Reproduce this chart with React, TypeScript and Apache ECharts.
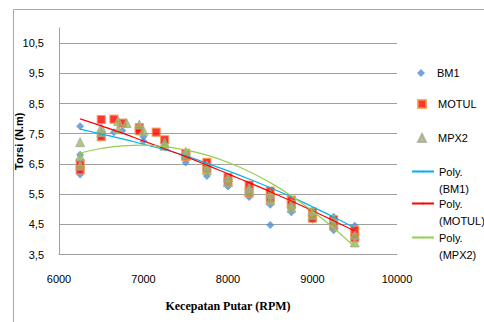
import React, { useEffect, useRef } from "react";
import * as echarts from "echarts";

// ---- data ----
const xTicks = [6000, 7000, 8000, 9000, 10000];
const yTicks = [3.5, 4.5, 5.5, 6.5, 7.5, 8.5, 9.5, 10.5];

const bm1Rpm = [6250, 6250, 6250, 6500, 6500, 6650, 6750, 7000, 7000, 7250, 7250, 7500, 7500, 7750, 7750, 8000, 8000, 8250, 8250, 8500, 8500, 8500, 8750, 8750, 9000, 9000, 9250, 9250, 9500, 9500];
const bm1Torque = [7.75, 6.8, 6.15, 7.55, 7.45, 7.55, 7.6, 7.25, 7.4, 7.1, 7.2, 6.55, 6.7, 6.1, 6.25, 5.75, 5.9, 5.4, 5.55, 5.15, 4.48, 5.3, 4.9, 5.0, 4.65, 4.8, 4.75, 4.3, 4.45, 4.15];

const motulRpm = [6250, 6250, 6500, 6500, 6650, 6750, 6950, 6950, 7150, 7250, 7500, 7500, 7750, 7750, 8000, 8000, 8250, 8250, 8500, 8500, 8750, 8750, 9000, 9000, 9250, 9250, 9500, 9500];
const motulTorque = [6.5, 6.3, 7.97, 7.4, 7.98, 7.85, 7.7, 7.6, 7.55, 7.3, 6.85, 6.75, 6.55, 6.35, 6.05, 5.9, 5.8, 5.55, 5.6, 5.35, 5.3, 5.15, 4.9, 4.7, 4.65, 4.45, 4.3, 4.05];

const mpx2Rpm = [6250, 6250, 6250, 6500, 6500, 6700, 6700, 6800, 6950, 7000, 7250, 7250, 7500, 7500, 7750, 7750, 8000, 8000, 8250, 8250, 8500, 8500, 8750, 8750, 9000, 9000, 9250, 9250, 9500, 9500];
const mpx2Torque = [7.22, 6.75, 6.45, 7.7, 7.55, 7.92, 7.65, 7.85, 7.8, 7.6, 7.2, 7.1, 6.9, 6.8, 6.45, 6.3, 6.05, 5.9, 5.7, 5.6, 5.5, 5.3, 5.2, 5.05, 4.95, 4.8, 4.7, 4.5, 4.15, 3.9];

const trendRpm = [6250, 6500, 6750, 7000, 7250, 7500, 7750, 8000, 8250, 8500, 8750, 9000, 9250, 9500];
const bm1Trend = [7.65, 7.49, 7.33, 7.15, 6.97, 6.77, 6.52, 6.27, 6.0, 5.71, 5.41, 5.08, 4.74, 4.38];
const motulTrend = [7.99, 7.76, 7.52, 7.26, 7.0, 6.74, 6.46, 6.17, 5.88, 5.58, 5.27, 4.95, 4.62, 4.28];
const mpx2Trend = [6.86, 7.01, 7.1, 7.12, 7.07, 6.96, 6.79, 6.55, 6.25, 5.88, 5.44, 4.94, 4.38, 3.75];

const scatterNames = ["BM1", "MOTUL", "MPX2"];
const trendNames = ["Poly. (BM1)", "Poly. (MOTUL)", "Poly. (MPX2)"];

const pairs = (xs: number[], ys: number[]) => xs.map((x, i) => [x, ys[i]]);

export default function App() {
  const ref = useRef<HTMLDivElement>(null);
  useEffect(() => {
    if (!ref.current) return;
    const chart = echarts.init(ref.current, null, { renderer: "svg" });
    const font = "Liberation Sans";
    const scatterIcons = ["diamond", "rect", "triangle"];
    const scatterTops = [66, 97, 131];
    const trendTops = [146, 178, 212];
    const legends: any[] = [];
    scatterNames.forEach((n, i) => {
      legends.push({
        data: [{ name: n, icon: scatterIcons[i] }],
        left: 417,
        top: scatterTops[i],
        padding: 0,
        itemWidth: 8,
        itemHeight: 8,
        textStyle: { fontFamily: font, fontSize: 11, color: "#000", lineHeight: 14, padding: [0, 0, 0, 7] },
      });
    });
    trendNames.forEach((n, i) => {
      legends.push({
        data: [n],
        left: 411,
        top: trendTops[i],
        padding: 0,
        itemWidth: 22,
        itemHeight: 2,
        formatter: (name: string) => " \n" + name.replace(" ", "\n"),
        textStyle: { fontFamily: font, fontSize: 11, color: "#000", lineHeight: 17 },
      });
    });

    chart.setOption({
      animation: false,
      grid: { left: 59, right: 87, top: 28, bottom: 67.5, outerBoundsMode: "none" },
      graphic: [
        {
          type: "rect",
          shape: { x: 13.5, y: 9.5, width: 600, height: 400 },
          style: { fill: "none", stroke: "#A6A6A6", lineWidth: 1 },
          silent: true,
        },
      ],
      legend: legends,
      xAxis: {
        type: "value",
        min: xTicks[0],
        max: xTicks[xTicks.length - 1],
        interval: 1000,
        axisLine: { show: true, lineStyle: { color: "#A0A0A0" } },
        axisTick: { show: false },
        splitLine: { show: false },
        axisLabel: {
          fontFamily: font,
          fontSize: 11,
          color: "#000",
          margin: 19,
          formatter: (v: number) => String(v),
        },
        name: "Kecepatan Putar (RPM)",
        nameLocation: "middle",
        nameGap: 45,
        nameMoveOverlap: false,
        nameTextStyle: { fontFamily: "Liberation Serif", fontWeight: "bold", fontSize: 12, color: "#000" },
      },
      yAxis: {
        type: "value",
        min: 3.5,
        max: 11,
        axisLine: { show: true, lineStyle: { color: "#A0A0A0" } },
        axisTick: { show: false, customValues: yTicks },
        splitLine: { show: true, lineStyle: { color: "#A0A0A0" } },
        axisLabel: {
          customValues: yTicks,
          fontFamily: font,
          fontSize: 11,
          color: "#000",
          margin: 15,
          formatter: (v: number) => v.toFixed(1).replace(".", ","),
        },
        name: "Torsi (N.m)",
        nameLocation: "middle",
        nameGap: 35,
        nameMoveOverlap: false,
        nameTextStyle: { fontFamily: font, fontWeight: "bold", fontSize: 11, color: "#000" },
      },
      series: [
        {
          name: "BM1",
          type: "scatter",
          symbol: "diamond",
          symbolSize: 8,
          itemStyle: { color: "#4F8FD6" },
          data: pairs(bm1Rpm, bm1Torque),
        },
        {
          name: "MOTUL",
          type: "scatter",
          symbol: "rect",
          symbolSize: 8,
          itemStyle: { color: "#FF0000", borderColor: "#F79646", borderWidth: 1.2 },
          data: pairs(motulRpm, motulTorque),
        },
        {
          name: "MPX2",
          type: "scatter",
          symbol: "triangle",
          symbolSize: 9,
          itemStyle: { color: "#9BBB59", borderColor: "#A6A6A6", borderWidth: 1 },
          data: pairs(mpx2Rpm, mpx2Torque),
        },
        {
          name: trendNames[0],
          type: "line",
          smooth: true,
          symbol: "none",
          z: 5,
          lineStyle: { color: "#00B0F0", width: 1.2 },
          itemStyle: { color: "#00B0F0" },
          data: pairs(trendRpm, bm1Trend),
        },
        {
          name: trendNames[1],
          type: "line",
          smooth: true,
          symbol: "none",
          z: 5,
          lineStyle: { color: "#FF0000", width: 1.2 },
          itemStyle: { color: "#FF0000" },
          data: pairs(trendRpm, motulTrend),
        },
        {
          name: trendNames[2],
          type: "line",
          smooth: true,
          symbol: "none",
          z: 5,
          lineStyle: { color: "#92D050", width: 1.2 },
          itemStyle: { color: "#92D050" },
          data: pairs(trendRpm, mpx2Trend),
        },
      ],
    });
    return () => chart.dispose();
  }, []);
  return (
    <div
      ref={ref}
      style={{ position: "absolute", left: 0, top: 0, width: 484, height: 322 }}
    />
  );
}
